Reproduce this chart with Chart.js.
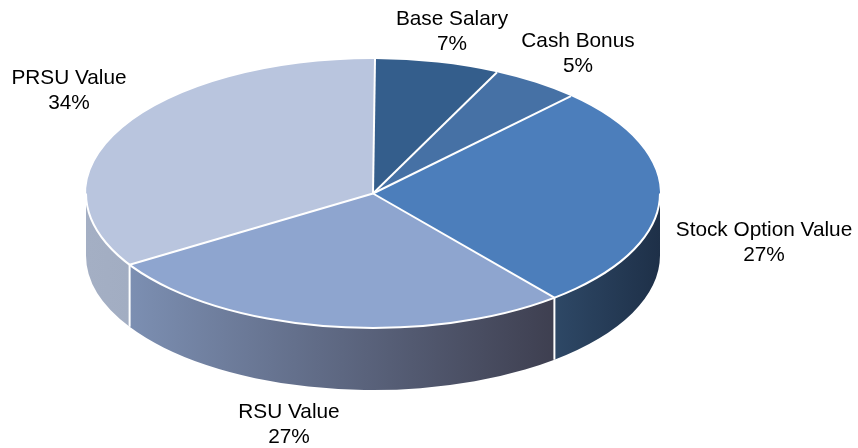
<!DOCTYPE html>
<html>
<head>
<meta charset="utf-8">
<style>
  html, body { margin: 0; padding: 0; background: #ffffff; }
  canvas { display: block; }
</style>
<script src="https://cdn.jsdelivr.net/npm/chart.js@4"></script>
</head>
<body>
<canvas id="pie-chart" width="858" height="448"></canvas>
<script>
const categories = ['Base Salary', 'Cash Bonus', 'Stock Option Value', 'RSU Value', 'PRSU Value'];
const shares = [7, 5, 27, 27, 34];

const topColors = ['#345e8c', '#4671a5', '#4c7ebb', '#8ea5cf', '#b9c5de'];
// left and right colour of the rim of each slice
const rimColors = [
  ['#345e8c', '#345e8c'],
  ['#4671a5', '#4671a5'],
  ['#2e4866', '#1e3048'],
  ['#7c8fb2', '#3e3f50'],
  ['#a4afc4', '#a2adc2']
];
// centre of each label
const labelAnchors = [[452, 19], [578, 41], [764, 230], [289, 412], [69, 78]];

const radiusX = 287;
const depth = 62;

function squash(ctx, arc) {
  ctx.translate(arc.x, arc.y);
  ctx.scale(radiusX / arc.outerRadius, 1);
  ctx.translate(-arc.x, -arc.y);
}

const tiltPlugin = {
  id: 'tilt',
  beforeDatasetsDraw(chart) {
    const ctx = chart.ctx;
    const arcs = chart.getDatasetMeta(0).data;
    arcs.forEach((arc, i) => {
      const from = Math.max(arc.startAngle, 0);
      const to = Math.min(arc.endAngle, Math.PI);
      if (to <= from) return;
      const r = arc.outerRadius;
      ctx.save();
      squash(ctx, arc);
      ctx.beginPath();
      ctx.arc(arc.x, arc.y, r, from, to);
      ctx.arc(arc.x, arc.y + depth, r, to, from, true);
      ctx.closePath();
      ctx.restore();
      const left = arc.x + radiusX * Math.cos(to);
      const right = arc.x + radiusX * Math.cos(from);
      const grad = ctx.createLinearGradient(left, 0, right, 0);
      grad.addColorStop(0, rimColors[i][0]);
      grad.addColorStop(1, rimColors[i][1]);
      ctx.fillStyle = grad;
      ctx.fill();
    });
    ctx.save();
    squash(ctx, arcs[0]);
  },
  afterDatasetsDraw(chart) {
    const ctx = chart.ctx;
    ctx.restore();
    const arcs = chart.getDatasetMeta(0).data;
    const first = arcs[0];
    const r = first.outerRadius;

    ctx.save();
    ctx.strokeStyle = '#ffffff';
    ctx.lineWidth = 2;
    // front edge of the top face
    ctx.save();
    squash(ctx, first);
    ctx.beginPath();
    ctx.arc(first.x, first.y, r, 0, Math.PI);
    ctx.restore();
    ctx.stroke();
    // spokes, and the seams on the rim
    arcs.forEach(arc => {
      const x = arc.x + radiusX * Math.cos(arc.startAngle);
      const y = arc.y + r * Math.sin(arc.startAngle);
      ctx.beginPath();
      ctx.moveTo(arc.x, arc.y);
      ctx.lineTo(x, y);
      ctx.stroke();
      if (Math.sin(arc.startAngle) > 0) {
        ctx.beginPath();
        ctx.moveTo(x, y);
        ctx.lineTo(x, y + depth);
        ctx.stroke();
      }
    });
    ctx.restore();

    ctx.save();
    ctx.fillStyle = '#000000';
    ctx.font = '20.8px "Liberation Sans", sans-serif';
    ctx.textAlign = 'center';
    ctx.textBaseline = 'middle';
    categories.forEach((name, i) => {
      const [x, y] = labelAnchors[i];
      ctx.fillText(name, x, y);
      ctx.fillText(shares[i] + '%', x, y + 25);
    });
    ctx.restore();
  }
};

new Chart(document.getElementById('pie-chart'), {
  type: 'pie',
  data: {
    labels: categories,
    datasets: [{
      data: shares,
      backgroundColor: topColors,
      borderWidth: 0
    }]
  },
  options: {
    responsive: false,
    animation: false,
    rotation: 0.4,
    layout: { padding: { left: 86, right: 198, top: 59, bottom: 120 } },
    plugins: {
      legend: { display: false },
      tooltip: { enabled: false }
    }
  },
  plugins: [tiltPlugin]
});
</script>
</body>
</html>
